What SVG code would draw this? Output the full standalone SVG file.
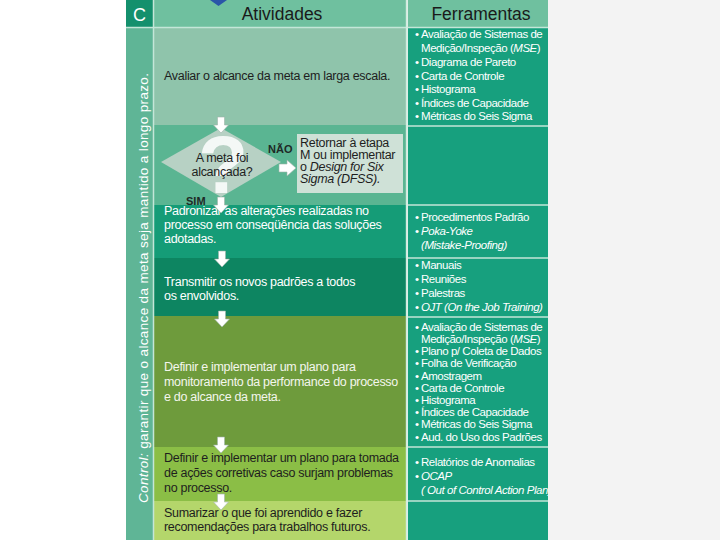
<svg xmlns="http://www.w3.org/2000/svg" width="720" height="540" viewBox="0 0 720 540">
<defs>
<style>
text{font-family:"Liberation Sans",Arial,sans-serif}
.act{font-size:12.5px;letter-spacing:-0.3px}
.tool{font-size:11.5px;letter-spacing:-0.45px;fill:#fff}
.hdr{font-size:17.5px;fill:#1a1a1a;text-anchor:middle}
.dk{fill:#1e1e1e}
.wh{fill:#fff}
.lab{font-size:11px;font-weight:bold;fill:#1e2a26}
.it{font-style:italic}
.div{stroke:#c4e6d8;stroke-width:1.5}
.arr{fill:#fff;stroke:#9fb3aa;stroke-width:0.6}
</style>
<path id="adown" d="M-3.5,0 H3.5 V8 H7.5 L0,16 L-7.5,8 H-3.5 Z"/>
<clipPath id="toolclip"><rect x="408" y="0" width="140" height="540"/></clipPath>
</defs>
<rect x="0" y="0" width="720" height="540" fill="#ffffff"/>
<rect x="548" y="0" width="172" height="540" fill="#f3f3f3"/>

<g id="side-bar">
<rect x="126" y="0" width="27" height="540" fill="#5fb596"/>
<text transform="translate(148,503) rotate(-90)" font-size="13.5" fill="#fff" textLength="430" lengthAdjust="spacing"><tspan class="it">Control:</tspan> garantir que o alcance da meta seja mantido a longo prazo.</text>
</g>
<g id="header-c">
<rect x="126" y="0" width="27" height="27" fill="#14906d"/>
<text x="139.5" y="21" font-size="18" fill="#fff" text-anchor="middle">C</text>
</g>
<g id="header-atividades">
<rect x="154" y="0" width="252" height="27" fill="#6fc09f"/>
<text class="hdr" x="282" y="20">Atividades</text>
</g>
<g id="header-ferramentas">
<rect x="408" y="0" width="140" height="27" fill="#6fc09f"/>
<text class="hdr" x="481" y="20">Ferramentas</text>
</g>

<g id="act-avaliar">
<rect x="154" y="28" width="252" height="97" fill="#8fc4ab"/>
<text class="act dk" x="164" y="80">Avaliar o alcance da meta em larga escala.</text>
</g>

<g id="decision-row">
<rect x="154" y="125" width="252" height="80" fill="#5ab592"/>
</g>
<g id="decision">
<polygon points="161,162 221,128 281,162 221,197" fill="#b7d1c4"/>
<text x="223" y="193" font-size="82" font-weight="bold" fill="#ffffff" fill-opacity="0.85" text-anchor="middle">?</text>
<text class="act dk" x="222" y="162" text-anchor="middle">A meta foi</text>
<text class="act dk" x="222" y="176" text-anchor="middle">alcançada?</text>
</g>
<g id="retornar">
<rect x="297" y="134" width="106" height="59" fill="#cfe1d7"/>
<text class="act dk" x="300" y="147">Retornar à etapa</text>
<text class="act dk" x="300" y="159">M ou implementar</text>
<text class="act dk" x="300" y="171">o <tspan class="it">Design for Six</tspan></text>
<text class="act dk" x="300" y="183"><tspan class="it">Sigma (DFSS).</tspan></text>
</g>

<g id="act-padronizar">
<rect x="154" y="205" width="252" height="53" fill="#159c77"/>
<text class="act wh" x="164" y="215">Padronizar as alterações realizadas no</text>
<text class="act wh" x="164" y="229">processo em conseqüência das soluções</text>
<text class="act wh" x="164" y="243">adotadas.</text>
</g>
<g id="act-transmitir">
<rect x="154" y="258" width="252" height="58" fill="#0d8561"/>
<text class="act wh" x="164" y="286">Transmitir os novos padrões a todos</text>
<text class="act wh" x="164" y="300">os envolvidos.</text>
</g>
<g id="act-monitorar">
<rect x="154" y="316" width="252" height="131" fill="#6e9b3c"/>
<text class="act" fill="#f4f6ec" x="164" y="371">Definir e implementar um plano para</text>
<text class="act" fill="#f4f6ec" x="164" y="386">monitoramento da performance do processo</text>
<text class="act" fill="#f4f6ec" x="164" y="401">e do alcance da meta.</text>
</g>
<g id="act-corrigir">
<rect x="154" y="447" width="252" height="54" fill="#8bbe46"/>
<text class="act dk" x="164" y="462">Definir e implementar um plano para tomada</text>
<text class="act dk" x="164" y="477">de ações corretivas caso surjam problemas</text>
<text class="act dk" x="164" y="492">no processo.</text>
</g>
<g id="act-sumarizar">
<rect x="154" y="501" width="252" height="39" fill="#b4d66b"/>
<text class="act dk" x="164" y="517">Sumarizar o que foi aprendido e fazer</text>
<text class="act dk" x="164" y="531">recomendações para trabalhos futuros.</text>
</g>

<g id="tools-column">
<rect x="408" y="28" width="140" height="512" fill="#17a07e"/>
</g>
<g id="tools-1" clip-path="url(#toolclip)">
<text class="tool" x="415" y="38">•</text><text class="tool" x="421" y="38">Avaliação de Sistemas de</text>
<text class="tool" x="421" y="52">Medição/Inspeção (<tspan class="it">MSE</tspan>)</text>
<text class="tool" x="415" y="66">•</text><text class="tool" x="421" y="66">Diagrama de Pareto</text>
<text class="tool" x="415" y="80">•</text><text class="tool" x="421" y="80">Carta de Controle</text>
<text class="tool" x="415" y="93">•</text><text class="tool" x="421" y="93">Histograma</text>
<text class="tool" x="415" y="107">•</text><text class="tool" x="421" y="107">Índices de Capacidade</text>
<text class="tool" x="415" y="120">•</text><text class="tool" x="421" y="120">Métricas do Seis Sigma</text>
</g>
<g id="tools-3" clip-path="url(#toolclip)">
<text class="tool" x="415" y="221">•</text><text class="tool" x="421" y="221">Procedimentos Padrão</text>
<text class="tool" x="415" y="235">•</text><text class="tool it" x="421" y="235">Poka-Yoke</text>
<text class="tool it" x="421" y="249">(Mistake-Proofing)</text>
</g>
<g id="tools-4" clip-path="url(#toolclip)">
<text class="tool" x="415" y="269">•</text><text class="tool" x="421" y="269">Manuais</text>
<text class="tool" x="415" y="283">•</text><text class="tool" x="421" y="283">Reuniões</text>
<text class="tool" x="415" y="297">•</text><text class="tool" x="421" y="297">Palestras</text>
<text class="tool" x="415" y="311">•</text><text class="tool it" x="421" y="311">OJT (On the Job Training)</text>
</g>
<g id="tools-5" clip-path="url(#toolclip)">
<text class="tool" x="415" y="331">•</text><text class="tool" x="421" y="331">Avaliação de Sistemas de</text>
<text class="tool" x="421" y="343">Medição/Inspeção (<tspan class="it">MSE</tspan>)</text>
<text class="tool" x="415" y="355">•</text><text class="tool" x="421" y="355">Plano p/ Coleta de Dados</text>
<text class="tool" x="415" y="367">•</text><text class="tool" x="421" y="367">Folha de Verificação</text>
<text class="tool" x="415" y="380">•</text><text class="tool" x="421" y="380">Amostragem</text>
<text class="tool" x="415" y="392">•</text><text class="tool" x="421" y="392">Carta de Controle</text>
<text class="tool" x="415" y="404">•</text><text class="tool" x="421" y="404">Histograma</text>
<text class="tool" x="415" y="416">•</text><text class="tool" x="421" y="416">Índices de Capacidade</text>
<text class="tool" x="415" y="428">•</text><text class="tool" x="421" y="428">Métricas do Seis Sigma</text>
<text class="tool" x="415" y="441">•</text><text class="tool" x="421" y="441">Aud. do Uso dos Padrões</text>
</g>
<g id="tools-6" clip-path="url(#toolclip)">
<text class="tool" x="415" y="466">•</text><text class="tool" x="421" y="466">Relatórios de Anomalias</text>
<text class="tool" x="415" y="480">•</text><text class="tool it" x="421" y="480">OCAP</text>
<text class="tool it" x="421" y="494">( Out of Control Action Plan)</text>
</g>

<g id="grid">
<line class="div" x1="126" y1="27.5" x2="548" y2="27.5"/>
<line class="div" x1="153.5" y1="0" x2="153.5" y2="540"/>
<line x1="406.8" y1="0" x2="406.8" y2="540" stroke="#d3ebe0" stroke-width="2"/>
<line class="div" x1="408" y1="126" x2="548" y2="126"/>
<line class="div" x1="408" y1="205" x2="548" y2="205"/>
<line class="div" x1="408" y1="258" x2="548" y2="258"/>
<line class="div" x1="408" y1="317" x2="548" y2="317"/>
<line class="div" x1="408" y1="447" x2="548" y2="447"/>
<line class="div" x1="408" y1="501" x2="548" y2="501"/>
</g>

<g id="connectors">
<polygon points="210,0 227,0 218.5,6" fill="#2a55a8"/>
<use href="#adown" class="arr" x="221" y="117"/>
<use href="#adown" class="arr" x="221" y="197"/>
<use href="#adown" class="arr" x="222" y="251"/>
<use href="#adown" class="arr" x="222" y="311"/>
<use href="#adown" class="arr" x="221" y="437"/>
<use href="#adown" class="arr" x="221" y="494"/>
<path class="arr" d="M279,164 H287 V160 L296,168 L287,176 V172 H279 Z"/>
<text class="lab" x="268" y="153">NÃO</text>
<text class="lab" x="186" y="205">SIM</text>
</g>
</svg>
